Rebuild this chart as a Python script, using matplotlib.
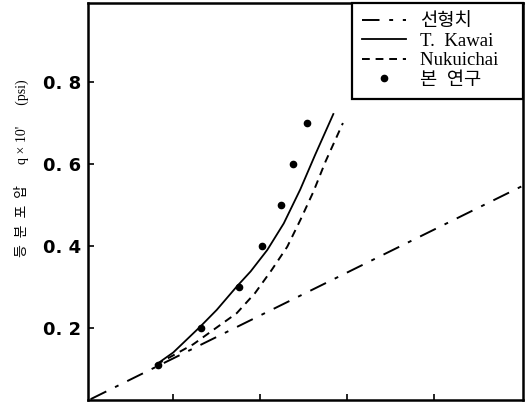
import numpy as np
import matplotlib.pyplot as plt

plt.rcParams['font.family'] = ['Liberation Serif', 'Noto Sans CJK KR']

# Data
linear_x = [0.05, 5.0]
linear_y = [0.026, 0.545]

kawai_x = [0.8, 1.0, 1.31, 1.5, 1.73, 1.89, 2.08, 2.27, 2.46, 2.63, 2.84]
kawai_y = [0.11, 0.14, 0.203, 0.244, 0.301, 0.338, 0.39, 0.455, 0.538, 0.622, 0.722]

nuk_x = [0.8, 1.0, 1.23, 1.46, 1.73, 1.94, 2.13, 2.31, 2.46, 2.61, 2.75, 2.95]
nuk_y = [0.11, 0.133, 0.16, 0.195, 0.236, 0.285, 0.341, 0.398, 0.463, 0.532, 0.606, 0.70]

test_x = [0.82, 1.32, 1.75, 2.02, 2.24, 2.38, 2.54]
test_y = [0.11, 0.20, 0.30, 0.40, 0.50, 0.60, 0.70]

x_ticks = [1, 2, 3, 4]
x_ticklabels = ['1. 0', '2. 0', '3. 0', '4. 0']
y_ticks = [0.2, 0.4, 0.6, 0.8]
y_ticklabels = ['0. 2', '0. 4', '0. 6', '0. 8']

labels = ['선형치', 'T.  Kawai', 'Nukuichai   ', '본  연구']

fig = plt.figure(figsize=(5.28, 4.08), dpi=100)
ax = fig.add_axes([88 / 528, 1 - 400 / 408, 435 / 528, 397 / 408])

l1, = ax.plot(linear_x, linear_y, color='black', lw=1.4, linestyle=(0, (9, 5, 2, 5)))
l2, = ax.plot(kawai_x, kawai_y, color='black', lw=1.3)
l3, = ax.plot(nuk_x, nuk_y, color='black', lw=1.4, linestyle=(0, (4, 3)))
l4, = ax.plot(test_x, test_y, 'o', color='black', markersize=4.5, linestyle='none')

ax.set_xlim(0.02, 5.02)
ax.set_ylim(0.024, 0.993)

ax.set_xticks(x_ticks)
ax.set_xticklabels(x_ticklabels, fontsize=13, fontweight='bold', family='DejaVu Sans')
ax.set_yticks(y_ticks)
ax.set_yticklabels(y_ticklabels, fontsize=13, fontweight='bold', family='DejaVu Sans')
ax.tick_params(direction='in', length=4, width=1.2, top=False, right=False)
ax.tick_params(axis='x', pad=5.5)
ax.tick_params(axis='y', pad=5)
for s in ax.spines.values():
    s.set_linewidth(1.8)

fig.text(21 / 528, 1 - 168 / 408, "등  분  포  압      q × 10'      (psi)", rotation=90,
         fontsize=10, ha='center', va='center')

leg = ax.legend([l1, l2, l3, l4], labels, loc='upper right', borderaxespad=0,
                fontsize=13.5, handlelength=2.35, handletextpad=0.75, labelspacing=0.12,
                borderpad=0.55, fancybox=False, framealpha=1, edgecolor='black')
leg.get_frame().set_linewidth(1.6)

fig.savefig('out.png', dpi=100)
